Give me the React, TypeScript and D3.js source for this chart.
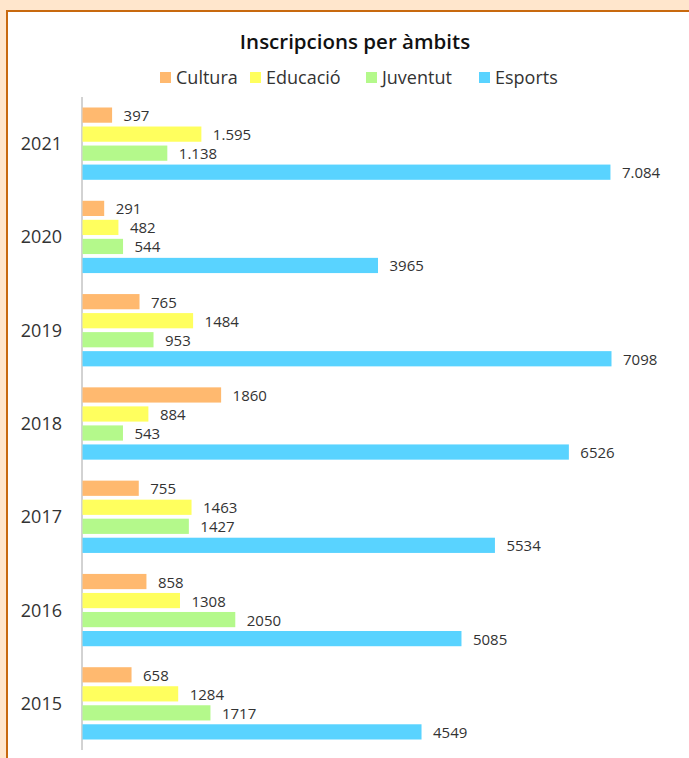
import React from "react";
import * as d3 from "d3";

const years = ["2021", "2020", "2019", "2018", "2017", "2016", "2015"];
const series = ["Cultura", "Educació", "Juventut", "Esports"];
const cultura = [397, 291, 765, 1860, 755, 858, 658];
const educacio = [1595, 482, 1484, 884, 1463, 1308, 1284];
const juventut = [1138, 544, 953, 543, 1427, 2050, 1717];
const esports = [7084, 3965, 7098, 6526, 5534, 5085, 4549];
const separatorYears = ["2021"];
const colors = ["#FFB96F", "#FFFF5E", "#B4F98B", "#59D3FF"];

const W = 689;
const H = 758;
const FONT = "'Open Sans', sans-serif";

export default function App() {
  const values = [cultura, educacio, juventut, esports];
  const x0 = 82;
  const x = d3.scaleLinear().domain([0, 7098]).range([x0, 611]);
  const y = d3.scaleBand<string>().domain(years).range([97, 750]).paddingInner(0.225).paddingOuter(0.1125);
  const inner = d3.scaleBand<string>().domain(series).range([0, y.bandwidth()]).paddingInner(0.2);
  const fmtSep = (v: number) => (v >= 1000 ? `${Math.floor(v / 1000)}.${String(v % 1000).padStart(3, "0")}` : String(v));

  const legendX = [160, 250, 366, 479];

  return (
    <svg width={W} height={H} style={{ position: "absolute", left: 0, top: 0 }} fontFamily={FONT}>
      <rect x={0} y={0} width={W} height={H} fill="#FFE6CC" />
      <rect x={7} y={11} width={W + 10} height={H + 10} fill="#FFFFFF" stroke="#C8690E" strokeWidth={2} />
      <text x={355} y={49} textAnchor="middle" fontSize={20.5} fontWeight={600} fill="#111">Inscripcions per àmbits</text>
      {series.map((s, i) => (
        <g key={s}>
          <rect x={legendX[i]} y={72} width={11} height={11} fill={colors[i]} />
          <text x={legendX[i] + 16} y={84} fontSize={18} fill="#333">{s}</text>
        </g>
      ))}
      <line x1={x0} x2={x0} y1={97} y2={750} stroke="#A6A6A6" strokeWidth={1} />
      {years.map((yr, yi) => (
        <g key={yr} transform={`translate(0,${y(yr)})`}>
          <text x={62} y={y.bandwidth() / 2 + 6.5} textAnchor="end" fontSize={18} fill="#333">{yr}</text>
          {series.map((s, si) => {
            const v = values[si][yi];
            const by = inner(s)!;
            const label = separatorYears.includes(yr) ? fmtSep(v) : String(v);
            return (
              <g key={s}>
                <rect x={x0 + 0.5} y={by} width={x(v) - x0} height={inner.bandwidth()} fill={colors[si]} />
                <text x={x(v) + 12} y={by + inner.bandwidth() / 2 + 6} fontSize={15} fill="#333">{label}</text>
              </g>
            );
          })}
        </g>
      ))}
    </svg>
  );
}
